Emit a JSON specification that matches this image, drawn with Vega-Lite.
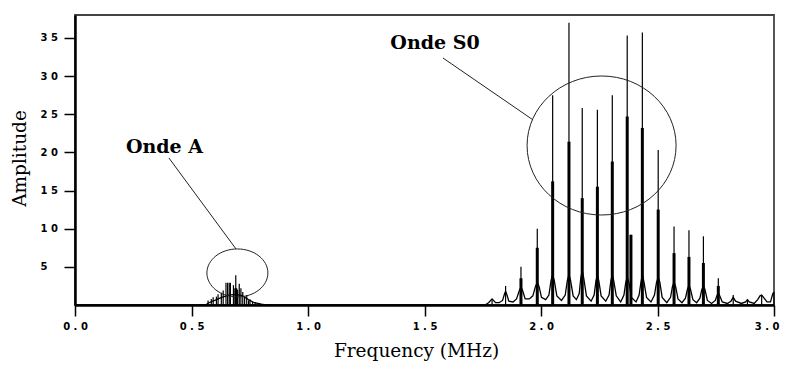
{
  "$schema": "https://vega.github.io/schema/vega-lite/v6.json",
  "width": 699,
  "height": 290,
  "autosize": {"type": "none"},
  "padding": {"left": 75, "top": 15, "right": 12, "bottom": 60},
  "background": "white",
  "config": {
    "view": {"stroke": "#444", "strokeWidth": 1.8},
    "axis": {
      "domainColor": "black", "domainWidth": 2.5,
      "tickColor": "black", "tickWidth": 1.5, "tickSize": 11,
      "grid": false,
      "labelFont": "DejaVu Sans", "labelFontWeight": "bold", "labelFontSize": 10, "labelColor": "black",
      "titleFont": "DejaVu Serif", "titleFontWeight": "normal", "titleFontSize": 18.5, "titleColor": "black"
    }
  },
  "datasets": {
    "envelope": [
      {"f": 0, "a": 0}, {"f": 0.56, "a": 0}, {"f": 0.575, "a": 0.3}, {"f": 0.6, "a": 0.6}, {"f": 0.63, "a": 1.0},
      {"f": 0.66, "a": 1.3}, {"f": 0.69, "a": 1.4}, {"f": 0.72, "a": 1.2}, {"f": 0.75, "a": 0.6}, {"f": 0.77, "a": 0.3},
      {"f": 0.8, "a": 0.1}, {"f": 0.82, "a": 0}, {"f": 1.76, "a": 0}, {"f": 1.775, "a": 0.3}, {"f": 1.79, "a": 0.8},
      {"f": 1.805, "a": 0.3}, {"f": 1.82, "a": 0.3}, {"f": 1.835, "a": 0.6}, {"f": 1.843, "a": 1.4}, {"f": 1.848, "a": 1.8},
      {"f": 1.853, "a": 1.4}, {"f": 1.862, "a": 0.5}, {"f": 1.88, "a": 0.4}, {"f": 1.895, "a": 0.8}, {"f": 1.906, "a": 1.8},
      {"f": 1.914, "a": 2.4}, {"f": 1.922, "a": 1.8}, {"f": 1.932, "a": 0.8}, {"f": 1.95, "a": 0.8}, {"f": 1.965, "a": 1.2},
      {"f": 1.976, "a": 2.4}, {"f": 1.984, "a": 3.0}, {"f": 1.992, "a": 2.4}, {"f": 2.002, "a": 1.0}, {"f": 2.02, "a": 0.7},
      {"f": 2.034, "a": 1.3}, {"f": 2.043, "a": 3.2}, {"f": 2.05, "a": 4.0}, {"f": 2.057, "a": 3.2}, {"f": 2.068, "a": 1.2},
      {"f": 2.088, "a": 0.6}, {"f": 2.104, "a": 1.3}, {"f": 2.113, "a": 3.2}, {"f": 2.12, "a": 4.0}, {"f": 2.127, "a": 3.2},
      {"f": 2.138, "a": 1.2}, {"f": 2.152, "a": 0.7}, {"f": 2.164, "a": 1.5}, {"f": 2.171, "a": 3.6}, {"f": 2.177, "a": 4.5},
      {"f": 2.183, "a": 3.6}, {"f": 2.195, "a": 1.2}, {"f": 2.215, "a": 0.5}, {"f": 2.228, "a": 1.3}, {"f": 2.236, "a": 3.2},
      {"f": 2.242, "a": 3.9}, {"f": 2.248, "a": 3.2}, {"f": 2.258, "a": 1.2}, {"f": 2.278, "a": 0.5}, {"f": 2.292, "a": 1.3},
      {"f": 2.3, "a": 3.2}, {"f": 2.306, "a": 4.0}, {"f": 2.312, "a": 3.2}, {"f": 2.323, "a": 1.2}, {"f": 2.342, "a": 0.4},
      {"f": 2.356, "a": 1.3}, {"f": 2.364, "a": 3.0}, {"f": 2.37, "a": 3.6}, {"f": 2.377, "a": 3.0}, {"f": 2.388, "a": 1.0},
      {"f": 2.408, "a": 0.4}, {"f": 2.421, "a": 1.3}, {"f": 2.429, "a": 3.0}, {"f": 2.435, "a": 4.0}, {"f": 2.442, "a": 3.0},
      {"f": 2.453, "a": 1.0}, {"f": 2.472, "a": 0.4}, {"f": 2.487, "a": 1.3}, {"f": 2.496, "a": 3.0}, {"f": 2.503, "a": 3.6},
      {"f": 2.51, "a": 3.0}, {"f": 2.52, "a": 1.0}, {"f": 2.54, "a": 0.3}, {"f": 2.556, "a": 1.0}, {"f": 2.564, "a": 2.4},
      {"f": 2.571, "a": 3.0}, {"f": 2.578, "a": 2.4}, {"f": 2.588, "a": 0.8}, {"f": 2.605, "a": 0.3}, {"f": 2.62, "a": 0.9},
      {"f": 2.628, "a": 2.0}, {"f": 2.635, "a": 2.6}, {"f": 2.642, "a": 2.0}, {"f": 2.652, "a": 0.7}, {"f": 2.668, "a": 0.3},
      {"f": 2.682, "a": 0.9}, {"f": 2.69, "a": 2.0}, {"f": 2.697, "a": 2.5}, {"f": 2.704, "a": 2.0}, {"f": 2.714, "a": 0.6},
      {"f": 2.732, "a": 0.2}, {"f": 2.748, "a": 0.6}, {"f": 2.755, "a": 1.2}, {"f": 2.761, "a": 1.6}, {"f": 2.767, "a": 1.2},
      {"f": 2.778, "a": 0.4}, {"f": 2.8, "a": 0.2}, {"f": 2.815, "a": 0.5}, {"f": 2.825, "a": 1.0}, {"f": 2.835, "a": 0.5},
      {"f": 2.86, "a": 0.2}, {"f": 2.878, "a": 0.4}, {"f": 2.886, "a": 0.7}, {"f": 2.894, "a": 0.4}, {"f": 2.915, "a": 0.2},
      {"f": 2.93, "a": 0.7}, {"f": 2.94, "a": 1.2}, {"f": 2.947, "a": 1.3}, {"f": 2.955, "a": 1.0}, {"f": 2.97, "a": 0.4},
      {"f": 2.985, "a": 0.4}, {"f": 2.995, "a": 1.5}, {"f": 3.0, "a": 1.7}
    ],
    "peaks": [
      {"f": 0.571, "a": 0.6, "t": 0}, {"f": 0.585, "a": 0.8, "t": 0}, {"f": 0.593, "a": 1.0, "t": 0},
      {"f": 0.607, "a": 1.1, "t": 0}, {"f": 0.614, "a": 1.4, "t": 0}, {"f": 0.628, "a": 1.6, "t": 0},
      {"f": 0.636, "a": 1.9, "t": 0}, {"f": 0.648, "a": 2.9, "t": 0}, {"f": 0.655, "a": 2.9, "t": 0},
      {"f": 0.662, "a": 2.9, "t": 0}, {"f": 0.667, "a": 2.9, "t": 0}, {"f": 0.68, "a": 2.6, "t": 0},
      {"f": 0.69, "a": 3.9, "t": 2.2}, {"f": 0.698, "a": 2.0, "t": 0}, {"f": 0.705, "a": 2.8, "t": 0},
      {"f": 0.712, "a": 2.2, "t": 0}, {"f": 0.72, "a": 1.7, "t": 0}, {"f": 0.728, "a": 1.0, "t": 0},
      {"f": 0.737, "a": 1.3, "t": 0}, {"f": 0.745, "a": 0.6, "t": 0}, {"f": 0.751, "a": 0.75, "t": 0},
      {"f": 0.762, "a": 0.4, "t": 0}, {"f": 0.773, "a": 0.4, "t": 0}, {"f": 0.79, "a": 0.2, "t": 0},
      {"f": 1.79, "a": 0.8, "t": 0}, {"f": 1.848, "a": 2.5, "t": 0}, {"f": 1.914, "a": 5.0, "t": 3.5},
      {"f": 1.984, "a": 10.0, "t": 7.5}, {"f": 2.05, "a": 27.5, "t": 16.2}, {"f": 2.12, "a": 37.0, "t": 21.4},
      {"f": 2.177, "a": 25.8, "t": 14.0}, {"f": 2.242, "a": 25.6, "t": 15.5}, {"f": 2.306, "a": 27.5, "t": 18.8},
      {"f": 2.37, "a": 35.3, "t": 24.7}, {"f": 2.386, "a": 9.2, "t": 9.2}, {"f": 2.435, "a": 35.7, "t": 23.2},
      {"f": 2.503, "a": 20.3, "t": 12.5}, {"f": 2.571, "a": 10.3, "t": 6.8}, {"f": 2.635, "a": 9.8, "t": 6.3},
      {"f": 2.697, "a": 9.0, "t": 5.5}, {"f": 2.761, "a": 3.5, "t": 2.5}, {"f": 2.825, "a": 1.3, "t": 0},
      {"f": 2.886, "a": 0.7, "t": 0}, {"f": 2.947, "a": 1.3, "t": 0}, {"f": 3.0, "a": 1.7, "t": 0}
    ],
    "labels": [
      {"f": 0.384, "a": 20.7, "label": "Onde A"},
      {"f": 1.545, "a": 34.3, "label": "Onde S0"}
    ],
    "leaders": [
      {"f": 0.403, "a": 19.27, "f2": 0.691, "a2": 7.34},
      {"f": 1.579, "a": 32.37, "f2": 1.966, "a2": 24.25}
    ],
    "ellipses": [
      {"f": 0.697, "a": 4.2, "name": "A"},
      {"f": 2.26, "a": 20.9, "name": "S0"}
    ]
  },
  "layer": [
    {
      "data": {"name": "envelope"},
      "mark": {"type": "line", "color": "black", "strokeWidth": 1.3, "clip": true},
      "encoding": {
        "x": {
          "field": "f", "type": "quantitative",
          "scale": {"domain": [0, 3], "nice": false, "zero": false},
          "axis": {
            "title": "Frequency (MHz)",
            "values": [0, 0.5, 1, 1.5, 2, 2.5, 3],
            "labelExpr": "floor(datum.value) + ' . ' + (round(datum.value * 10) % 10)",
            "labelPadding": 5, "labelFlush": false, "labelOverlap": false,
            "labelAlign": {"condition": {"test": "datum.value == 3", "value": "right"}, "value": "center"},
            "labelOffset": {"condition": {"test": "datum.value == 3", "value": 5}, "value": 0},
            "titleX": 341, "titleY": 36, "titleBaseline": "top", "titleAlign": "center"
          }
        },
        "y": {
          "field": "a", "type": "quantitative",
          "scale": {"domain": [0, 38], "nice": false},
          "axis": {
            "title": "Amplitude",
            "values": [5, 10, 15, 20, 25, 30, 35],
            "labelExpr": "datum.value >= 10 ? floor(datum.value / 10) + ' ' + (datum.value % 10) : '' + datum.value",
            "labelAlign": "left", "labelPadding": 24, "labelBaseline": "middle",
            "titleX": -56, "titleY": 143, "titleAlign": "center", "titleBaseline": "middle"
          }
        }
      }
    },
    {
      "data": {"name": "peaks"},
      "mark": {"type": "rule", "color": "black", "strokeWidth": 1.2},
      "encoding": {
        "x": {"field": "f", "type": "quantitative", "scale": {"domain": [0, 3], "nice": false, "zero": false}},
        "y": {"field": "a", "type": "quantitative", "scale": {"domain": [0, 38], "nice": false}},
        "y2": {"datum": 0}
      }
    },
    {
      "data": {"name": "peaks"},
      "transform": [{"filter": "datum.t > 0"}],
      "mark": {"type": "rule", "color": "black", "strokeWidth": 3},
      "encoding": {
        "x": {"field": "f", "type": "quantitative", "scale": {"domain": [0, 3], "nice": false, "zero": false}},
        "y": {"field": "t", "type": "quantitative", "scale": {"domain": [0, 38], "nice": false}},
        "y2": {"datum": 0}
      }
    },
    {
      "data": {"name": "leaders"},
      "mark": {"type": "rule", "color": "#222", "strokeWidth": 1},
      "encoding": {
        "x": {"field": "f", "type": "quantitative", "scale": {"domain": [0, 3], "nice": false, "zero": false}},
        "y": {"field": "a", "type": "quantitative", "scale": {"domain": [0, 38], "nice": false}},
        "x2": {"field": "f2"},
        "y2": {"field": "a2"}
      }
    },
    {
      "data": {"name": "ellipses"},
      "transform": [{"filter": "datum.name == 'A'"}],
      "mark": {"type": "point", "shape": "M -1 0 A 1 0.787 0 1 1 1 0 A 1 0.787 0 1 1 -1 0 Z", "size": 3721, "filled": false, "stroke": "#222", "strokeWidth": 1, "opacity": 1},
      "encoding": {
        "x": {"field": "f", "type": "quantitative", "scale": {"domain": [0, 3], "nice": false, "zero": false}},
        "y": {"field": "a", "type": "quantitative", "scale": {"domain": [0, 38], "nice": false}}
      }
    },
    {
      "data": {"name": "ellipses"},
      "transform": [{"filter": "datum.name == 'S0'"}],
      "mark": {"type": "point", "shape": "M -1 0 A 1 0.933 0 1 1 1 0 A 1 0.933 0 1 1 -1 0 Z", "size": 22201, "filled": false, "stroke": "#222", "strokeWidth": 1, "opacity": 1},
      "encoding": {
        "x": {"field": "f", "type": "quantitative", "scale": {"domain": [0, 3], "nice": false, "zero": false}},
        "y": {"field": "a", "type": "quantitative", "scale": {"domain": [0, 38], "nice": false}}
      }
    },
    {
      "data": {"name": "labels"},
      "mark": {"type": "text", "font": "DejaVu Serif", "fontWeight": "bold", "fontSize": 19, "align": "center", "baseline": "middle", "color": "black"},
      "encoding": {
        "x": {"field": "f", "type": "quantitative", "scale": {"domain": [0, 3], "nice": false, "zero": false}},
        "y": {"field": "a", "type": "quantitative", "scale": {"domain": [0, 38], "nice": false}},
        "text": {"field": "label"}
      }
    }
  ]
}
